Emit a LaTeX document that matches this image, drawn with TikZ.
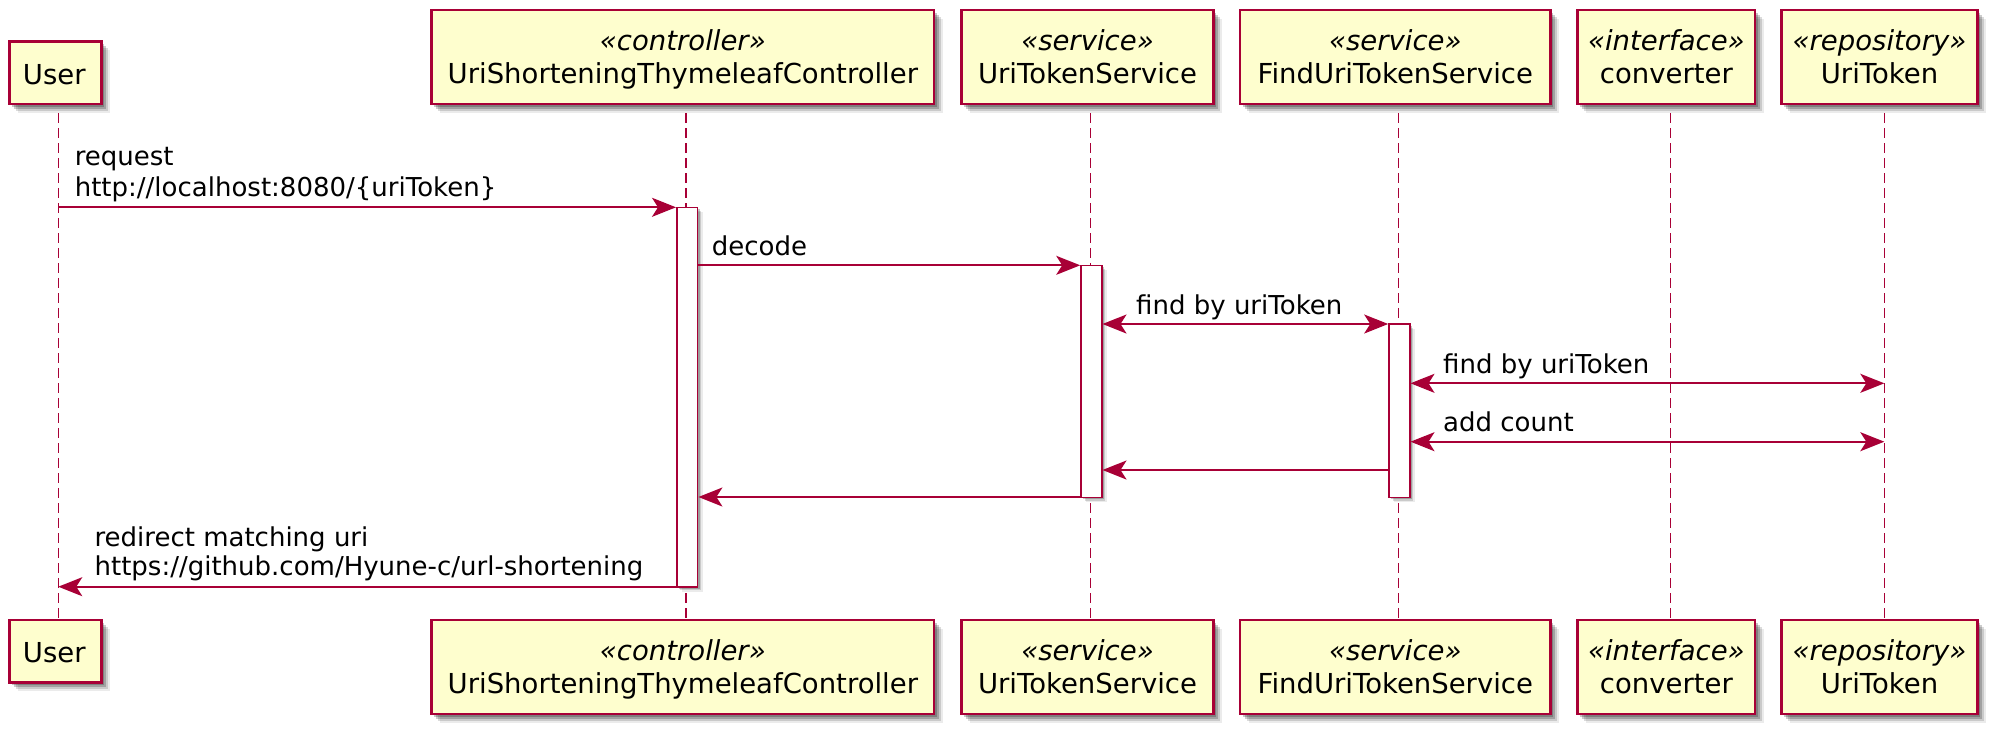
\documentclass[tikz,border=0pt]{standalone}
\usepackage{fontspec}
\setmainfont{DejaVu Sans}
\usetikzlibrary{arrows.meta,shadows}
\definecolor{pborder}{HTML}{A80036}
\definecolor{pfill}{HTML}{FEFECE}
\begin{document}
\begin{tikzpicture}[x=1pt,y=-1pt,
 pshadow/.style={drop shadow={shadow xshift=2.5pt,shadow yshift=-2.5pt,opacity=.22,fill=black},
                 drop shadow={shadow xshift=4.5pt,shadow yshift=-4.5pt,opacity=.2,fill=black},
                 drop shadow={shadow xshift=6.5pt,shadow yshift=-6.5pt,opacity=.14,fill=black},
                 drop shadow={shadow xshift=8.5pt,shadow yshift=-8.5pt,opacity=.08,fill=black}},
 pbox/.style={rectangle,draw=pborder,fill=pfill,line width=2.7pt,inner sep=0pt,pshadow},
 actbar/.style={rectangle,draw=pborder,fill=white,line width=1.6pt,inner sep=0pt,
                 drop shadow={shadow xshift=2pt,shadow yshift=-2pt,opacity=.22,fill=black},
                 drop shadow={shadow xshift=3.5pt,shadow yshift=-3.5pt,opacity=.14,fill=black},
                 drop shadow={shadow xshift=5pt,shadow yshift=-5pt,opacity=.08,fill=black}},
 lifeline/.style={draw=pborder,line width=1.4pt,dash pattern=on 9.3pt off 5.7pt},
 msg/.style={draw=pborder,line width=1.7pt,-{Stealth[length=24pt,width=19pt,inset=6pt]}},
 dmsg/.style={draw=pborder,line width=1.7pt,{Stealth[length=24pt,width=19pt,inset=6pt]}-{Stealth[length=24pt,width=19pt,inset=6pt]}},
 pname/.style={font=\fontsize{27.5}{33}\selectfont,inner sep=0pt,anchor=base},
 pster/.style={font=\fontsize{27.5}{33}\selectfont\itshape,inner sep=0pt,anchor=base},
 lbl/.style={font=\fontsize{26}{31}\selectfont,inner sep=0pt,anchor=base west},
]
\useasboundingbox (0,0) rectangle (2004,740);

% lifeline x positions and row coordinates
\coordinate (Lu) at (58.3,0);
\coordinate (Lc) at (686,0);
\coordinate (Ls) at (1090.7,0);
\coordinate (Lf) at (1398.3,0);
\coordinate (Lv) at (1670.7,0);
\coordinate (Lr) at (1884.3,0);
\coordinate (lltop) at (0,113.3);
\coordinate (r1) at (0,207.3);
\coordinate (r2) at (0,265.3);
\coordinate (r3) at (0,324);
\coordinate (r4) at (0,383.3);
\coordinate (r5) at (0,441.7);
\coordinate (r6) at (0,470);
\coordinate (r7) at (0,497);
\coordinate (r8) at (0,586.7);

% top participants
\node[pbox,minimum width=92pt,minimum height=62.3pt] (user) at (55.3,72.85) {};
\node[pbox,minimum width=502.3pt,minimum height=94pt] (ctrl) at (682.85,57) {};
\node[pbox,minimum width=251.6pt,minimum height=94pt] (uts) at (1087.5,57) {};
\node[pbox,minimum width=310.6pt,minimum height=94pt] (futs) at (1395.3,57) {};
\node[pbox,minimum width=177.3pt,minimum height=94pt] (conv) at (1666.35,57) {};
\node[pbox,minimum width=195.6pt,minimum height=94pt] (repo) at (1879.5,57) {};

% bottom participants
\node[pbox,minimum width=92pt,minimum height=62.3pt] (userb) at (55.3,651.15) {};
\node[pbox,minimum width=502.3pt,minimum height=94pt] (ctrlb) at (682.85,667) {};
\node[pbox,minimum width=251.6pt,minimum height=94pt] (utsb) at (1087.5,667) {};
\node[pbox,minimum width=310.6pt,minimum height=94pt] (futsb) at (1395.3,667) {};
\node[pbox,minimum width=177.3pt,minimum height=94pt] (convb) at (1666.35,667) {};
\node[pbox,minimum width=195.6pt,minimum height=94pt] (repob) at (1879.5,667) {};

% participant texts (top)
\node[pname] (user-n) at (54.3,84.3) {User};
\node[pster] (ctrl-s) at (682.85,50) {«controller»};
\node[pname] (ctrl-n) at (682.85,83.3) {UriShorteningThymeleafController};
\node[pster] (uts-s) at (1087.5,50) {«service»};
\node[pname] (uts-n) at (1087.5,83.3) {UriTokenService};
\node[pster] (futs-s) at (1395.3,50) {«service»};
\node[pname] (futs-n) at (1395.3,83.3) {FindUriTokenService};
\node[pster] (conv-s) at (1666.35,50) {«interface»};
\node[pname] (conv-n) at (1666.35,83.3) {converter};
\node[pster] (repo-s) at (1879.5,50) {«repository»};
\node[pname] (repo-n) at (1879.5,83.3) {UriToken};

% participant texts (bottom)
\node[pname] (userb-n) at (54.3,662.6) {User};
\node[pster] (ctrlb-s) at (682.85,660) {«controller»};
\node[pname] (ctrlb-n) at (682.85,693.3) {UriShorteningThymeleafController};
\node[pster] (utsb-s) at (1087.5,660) {«service»};
\node[pname] (utsb-n) at (1087.5,693.3) {UriTokenService};
\node[pster] (futsb-s) at (1395.3,660) {«service»};
\node[pname] (futsb-n) at (1395.3,693.3) {FindUriTokenService};
\node[pster] (convb-s) at (1666.35,660) {«interface»};
\node[pname] (convb-n) at (1666.35,693.3) {converter};
\node[pster] (repob-s) at (1879.5,660) {«repository»};
\node[pname] (repob-n) at (1879.5,693.3) {UriToken};

% lifelines
\draw[lifeline] (Lu |- lltop) -- (Lu |- userb.north);
\draw[lifeline] (Lc |- lltop) -- (Lc |- ctrlb.north);
\draw[lifeline] (Ls |- lltop) -- (Ls |- utsb.north);
\draw[lifeline] (Lf |- lltop) -- (Lf |- futsb.north);
\draw[lifeline] (Lv |- lltop) -- (Lv |- convb.north);
\draw[lifeline] (Lr |- lltop) -- (Lr |- repob.north);

% activation bars
\node[actbar,minimum width=20.8pt,minimum height=379.4pt] (ctrlact) at (687.2,397) {};
\node[actbar,minimum width=20.7pt,minimum height=232pt] (utsact) at (1091.35,381.3) {};
\node[actbar,minimum width=20.7pt,minimum height=173.3pt] (futsact) at (1399.35,410.65) {};

% messages
\draw[msg] (Lu |- r1) -- (ctrlact.west |- r1);
\draw[msg] (ctrlact.east |- r2) -- (utsact.west |- r2);
\draw[dmsg] (utsact.east |- r3) -- (futsact.west |- r3);
\draw[dmsg] (futsact.east |- r4) -- (Lr |- r4);
\draw[dmsg] (futsact.east |- r5) -- (Lr |- r5);
\draw[msg] (futsact.west |- r6) -- (utsact.east |- r6);
\draw[msg] (utsact.west |- r7) -- (ctrlact.east |- r7);
\draw[msg] (ctrlact.west |- r8) -- (Lu |- r8);

% message labels
\node[lbl] (m1a) at (74.6,165.7) {request};
\node[lbl] (m1b) at (74.6,196.7) {http://localhost:8080/\{uriToken\}};
\node[lbl] (m2) at (711.7,255) {decode};
\node[lbl] (m3) at (1136,314.5) {find by uriToken};
\node[lbl] (m4) at (1443,373.3) {find by uriToken};
\node[lbl] (m5) at (1443,431.7) {add count};
\node[lbl] (m8a) at (94.4,546.5) {redirect matching uri};
\node[lbl] (m8b) at (94.4,575.5) {https://github.com/Hyune-c/url-shortening};
\end{tikzpicture}
\end{document}
